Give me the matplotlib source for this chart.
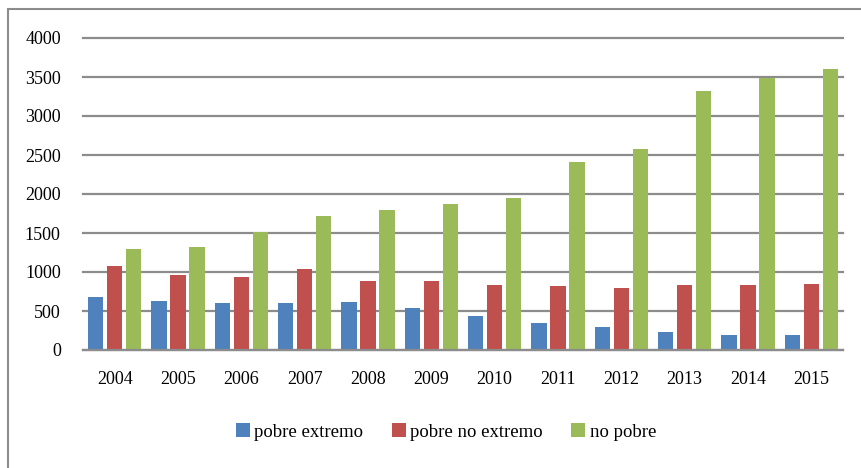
import matplotlib.pyplot as plt
import numpy as np
from matplotlib.patches import Rectangle

# datos
anios = ['2004', '2005', '2006', '2007', '2008', '2009',
         '2010', '2011', '2012', '2013', '2014', '2015']
pobre_extremo = [675, 630, 603, 600, 615, 540, 436, 350, 290, 235, 188, 188]
pobre_no_extremo = [1080, 958, 937, 1040, 886, 882, 830, 821, 791, 830, 834, 851]
no_pobre = [1300, 1318, 1519, 1720, 1797, 1878, 1947, 2409, 2580, 3325, 3491, 3607]

series = [pobre_extremo, pobre_no_extremo, no_pobre]
nombres = ['pobre extremo', 'pobre no extremo', 'no pobre']
colores = ['#4F81BD', '#C0504D', '#9BBB59']

plt.rcParams['font.family'] = ['Liberation Serif', 'DejaVu Serif']

fig = plt.figure(figsize=(8.61, 4.68), dpi=100)
ax = fig.add_axes([83/861, 1 - 350/468, (843 - 83)/861, (350 - 38)/468])

x = np.arange(len(anios))
ancho = 0.237
paso = 0.3
barras = []
for i, (vals, nom, col) in enumerate(zip(series, nombres, colores)):
    b = ax.bar(x + (i - 1)*paso, vals, ancho, color=col, label=nom, zorder=3)
    barras.append(b)

ax.set_xlim(-0.5, len(anios) - 0.5)
ax.set_ylim(0, 4000)
ax.set_yticks(np.arange(0, 4001, 500))
ax.set_xticks(x)
ax.set_xticklabels(anios)
ax.yaxis.grid(True, color='#8c8c8c', linewidth=1.6, zorder=0)
for linea in ax.get_ygridlines():
    linea.set_clip_on(False)
ax.set_axisbelow(True)
for s in ['top', 'right', 'left']:
    ax.spines[s].set_visible(False)
ax.spines['bottom'].set_color('#8c8c8c')
ax.spines['bottom'].set_linewidth(1.6)
ax.spines['bottom'].set_zorder(4)
ax.tick_params(length=0, labelsize=13, colors='black')
ax.tick_params(axis='y', pad=16)
ax.tick_params(axis='x', pad=15)

fig.legend(handles=barras, labels=nombres, loc='center',
           bbox_to_anchor=(446/861, 1 - 432/468), ncol=3, frameon=False,
           fontsize=13.5, handlelength=0.75, handleheight=0.75,
           handletextpad=0.25, columnspacing=1.5)

# marco exterior
fig.add_artist(Rectangle((8/861, -0.1), 1.2, 1 - 9/468 + 0.1,
                         transform=fig.transFigure, fill=False,
                         edgecolor='#8c8c8c', linewidth=1.5))

plt.savefig('out.png', dpi=100)
